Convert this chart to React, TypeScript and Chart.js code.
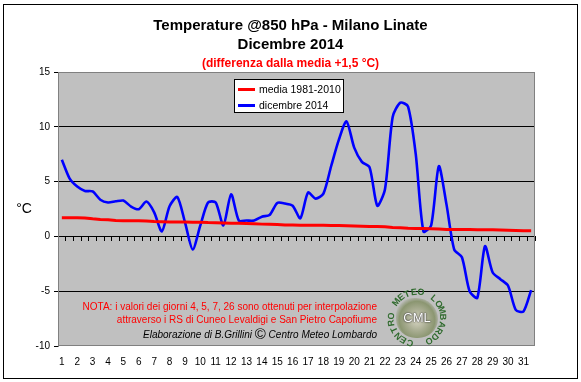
import React, { useEffect, useRef } from 'react';
import { Chart, registerables } from 'chart.js';

Chart.register(...registerables);

// ---------- DATA ----------
const dayLabels = ['1', '2', '3', '4', '5', '6', '7', '8', '9', '10', '11', '12', '13', '14', '15', '16',
  '17', '18', '19', '20', '21', '22', '23', '24', '25', '26', '27', '28', '29', '30', '31'];
const runLabels = ['00', '12'];

const seriesNames = ['media 1981-2010', 'dicembre 2014'];
const seriesColors = ['#FF0000', '#0000FF'];

// climatological mean (two values per day)
const mediaValues = [
  1.7, 1.7, 1.7, 1.68, 1.6, 1.55, 1.52, 1.45, 1.43, 1.42,
  1.42, 1.4, 1.35, 1.33, 1.32, 1.32, 1.31, 1.3, 1.3, 1.26,
  1.24, 1.22, 1.2, 1.2, 1.18, 1.16, 1.12, 1.1, 1.08, 1.04,
  1.03, 1.02, 1.02, 1.02, 1.01, 1.0, 0.99, 0.97, 0.95, 0.92,
  0.9, 0.9, 0.87, 0.82, 0.8, 0.74, 0.72, 0.71, 0.7, 0.68,
  0.63, 0.62, 0.62, 0.62, 0.61, 0.6, 0.6, 0.58, 0.55, 0.53,
  0.52, 0.52,
];

// December 2014 (00 and 12 UTC soundings)
const dicembreValues = [
  7.0, 5.3, 4.55, 4.15, 4.1, 3.35, 3.1, 3.2, 3.27, 2.72,
  2.48, 3.18, 2.2, 0.45, 2.75, 3.6, 1.3, -1.2, 1.0, 3.1,
  3.1, 1.0, 3.85, 1.45, 1.45, 1.45, 1.8, 1.95, 3.05, 3.0,
  2.8, 1.65, 4.0, 3.45, 3.9, 6.4, 8.8, 10.5, 8.1, 6.8,
  6.3, 2.8, 4.3, 10.9, 12.2, 11.85, 7.5, 0.45, 1.0, 6.4,
  2.9, -1.2, -1.9, -5.0, -5.6, -0.9, -3.3, -3.9, -4.5, -6.7,
  -6.85, -4.9,
];

const yMin = -10;
const yMax = 15;
const yStep = 5;

const titleLines = ['Temperature @850 hPa - Milano Linate', 'Dicembre 2014'];
const subtitleText = '(differenza dalla media +1,5 °C)';
const yUnit = '°C';
const noteLines = [
  'NOTA: i valori dei giorni 4, 5, 7, 26 sono ottenuti per interpolazione',
  'attraverso i RS di Cuneo Levaldigi e San Pietro Capofiume',
];
const creditText = ['Elaborazione di B.Grillini ', '©', ' Centro Meteo Lombardo'];
const logoRing = 'CENTRO METEO LOMBARDO';
const logoCenter = 'CML';

const categories = dayLabels.flatMap((d) => runLabels.map((r) => `${d} ${r}`));

const FONT = "'Liberation Sans', Arial, Helvetica, sans-serif";

const plotFrame = {
  id: 'plotFrame',
  beforeDraw(chart: any) {
    const { ctx, chartArea } = chart;
    const { left, top, right, bottom } = chartArea;
    ctx.save();
    ctx.fillStyle = '#C0C0C0';
    ctx.fillRect(left, top, right - left, bottom - top);
    ctx.restore();
  },
  beforeDatasetsDraw(chart: any) {
    const { ctx, chartArea } = chart;
    const { left, top, right, bottom } = chartArea;
    ctx.save();
    ctx.strokeStyle = '#808080';
    ctx.lineWidth = 1;
    ctx.strokeRect(Math.round(left) + 0.5, Math.round(top) + 0.5, Math.round(right - left) - 1, Math.round(bottom - top) - 1);
    ctx.restore();
  },
};

function ChartCanvas() {
  const ref = useRef<HTMLCanvasElement | null>(null);
  useEffect(() => {
    if (!ref.current) return;
    Chart.defaults.font.family = FONT;
    const chart = new Chart(ref.current, {
      type: 'line',
      data: {
        labels: categories,
        datasets: [
          {
            label: seriesNames[0],
            data: mediaValues,
            borderColor: seriesColors[0],
            backgroundColor: seriesColors[0],
            borderWidth: 3,
            pointRadius: 0,
            tension: 0,
            fill: false,
          },
          {
            label: seriesNames[1],
            data: dicembreValues,
            borderColor: seriesColors[1],
            backgroundColor: seriesColors[1],
            borderWidth: 2.6,
            pointRadius: 0,
            tension: 0.25,
            borderJoinStyle: 'round',
            fill: false,
          },
        ],
      },
      options: {
        responsive: false,
        animation: false,
        layout: { padding: { left: 8, top: 72, right: 46, bottom: 10 } },
        plugins: {
          legend: { display: false },
          title: { display: false },
          tooltip: { enabled: false },
        },
        scales: {
          x: {
            type: 'category',
            position: 'bottom',
            offset: true,
            grid: { display: false, drawTicks: false },
            border: { display: false },
            ticks: {
              autoSkip: false,
              maxRotation: 0,
              minRotation: 0,
              padding: 10,
              color: '#000',
              font: { size: 10 },
              callback: (_v: any, i: number) => (i % 2 === 0 ? dayLabels[i / 2] : ''),
            },
            afterFit: (s: any) => { s.height = 26; },
          },
          x2: {
            type: 'category',
            axis: 'x',
            position: { y: 0 },
            offset: true,
            ticks: { display: false, autoSkip: false },
            grid: {
              offset: true,
              drawOnChartArea: false,
              drawTicks: true,
              tickLength: 4,
              tickColor: '#000',
              color: '#000',
            },
            border: { display: true, color: '#000', width: 1 },
          },
          y: {
            type: 'linear',
            min: yMin,
            max: yMax,
            ticks: { stepSize: yStep, color: '#000', font: { size: 10 }, padding: 4 },
            grid: {
              color: (c: any) => (c.tick && (c.tick.value === yMax || c.tick.value === yMin) ? 'rgba(0,0,0,0)' : '#000'),
              lineWidth: 1,
              drawTicks: true,
              tickLength: 4,
              tickColor: '#000',
            },
            border: { display: true, color: '#808080', width: 1 },
            afterFit: (s: any) => { s.width = 50; },
          },
        },
      } as any,
      plugins: [plotFrame],
    });
    return () => chart.destroy();
  }, []);
  return <canvas ref={ref} width={581} height={382} style={{ position: 'absolute', left: 0, top: 0, width: 581, height: 382 }} />;
}

function Logo() {
  const cx = 417;
  const cy = 318;
  const r = 26;
  const start = -164;
  const step = 15.8;
  return (
    <>
      <div style={{
        position: 'absolute', left: cx - 21, top: cy - 20, width: 42, height: 40, borderRadius: '45% 55% 50% 50%',
        background: 'radial-gradient(ellipse at 50% 55%, #d8d6c4 0%, #a9ad92 35%, #8b9671 60%, rgba(139,150,113,0) 78%)',
      }} />
      <div style={{
        position: 'absolute', left: cx - 30, top: cy - 8, width: 60, textAlign: 'center', fontFamily: FONT,
        fontSize: 13, lineHeight: '16px', color: '#fff', textShadow: '0 0 2px #333, 0 0 1px #222',
      }}>{logoCenter}</div>
      {logoRing.split('').map((ch, i) => {
        const a = start + i * step;
        const rad = (a * Math.PI) / 180;
        const x = cx + r * Math.sin(rad);
        const y = cy - r * Math.cos(rad);
        return (
          <span key={i} style={{
            position: 'absolute', left: x - 5, top: y - 5, width: 10, height: 10, lineHeight: '10px',
            textAlign: 'center', fontFamily: FONT, fontWeight: 'bold', fontSize: 9, color: '#2f6a2d',
            transform: `rotate(${a}deg)`,
          }}>{ch}</span>
        );
      })}
    </>
  );
}

export default function App() {
  return (
    <div style={{ position: 'fixed', left: 0, top: 0, width: 581, height: 382, background: '#fff', overflow: 'hidden', fontFamily: FONT }}>
      <ChartCanvas />
      <div style={{ position: 'absolute', left: 3, top: 4, width: 575, height: 375, boxSizing: 'border-box', border: '1px solid #000', pointerEvents: 'none' }} />
      <div style={{ position: 'absolute', left: 0, top: 15, width: 581, textAlign: 'center', fontWeight: 'bold', fontSize: 15, lineHeight: '19px', color: '#000' }}>
        {titleLines.map((t, i) => <div key={i}>{t}</div>)}
      </div>
      <div style={{ position: 'absolute', left: 0, top: 55, width: 581, textAlign: 'center', fontWeight: 'bold', fontSize: 12, lineHeight: '16px', color: '#FF0000' }}>
        {subtitleText}
      </div>
      <div style={{ position: 'absolute', left: 12, top: 200, width: 24, textAlign: 'center', fontSize: 14, lineHeight: '16px', color: '#000' }}>{yUnit}</div>
      <div style={{ position: 'absolute', left: 234, top: 79, width: 110, height: 34, boxSizing: 'border-box', border: '1px solid #000', background: '#fff' }}>
        {seriesNames.map((n, i) => (
          <div key={i} style={{ position: 'absolute', left: 3, top: 2 + i * 16, height: 14, display: 'flex', alignItems: 'center' }}>
            <div style={{ width: 17, height: 3, background: seriesColors[i] }} />
            <span style={{ marginLeft: 4, fontSize: 10.5, lineHeight: '14px', color: '#000', whiteSpace: 'nowrap' }}>{n}</span>
          </div>
        ))}
      </div>
      <div style={{ position: 'absolute', right: 204, top: 300, textAlign: 'right', fontSize: 10, lineHeight: '13px', color: '#FF0000', whiteSpace: 'nowrap' }}>
        {noteLines.map((t, i) => <div key={i}>{t}</div>)}
      </div>
      <div style={{ position: 'absolute', right: 204, top: 326, textAlign: 'right', fontSize: 10, lineHeight: '16px', fontStyle: 'italic', color: '#000', whiteSpace: 'nowrap' }}>
        {creditText[0]}<span style={{ fontStyle: 'normal', fontSize: 15, verticalAlign: '-1px' }}>{creditText[1]}</span>{creditText[2]}
      </div>
      <Logo />
    </div>
  );
}
